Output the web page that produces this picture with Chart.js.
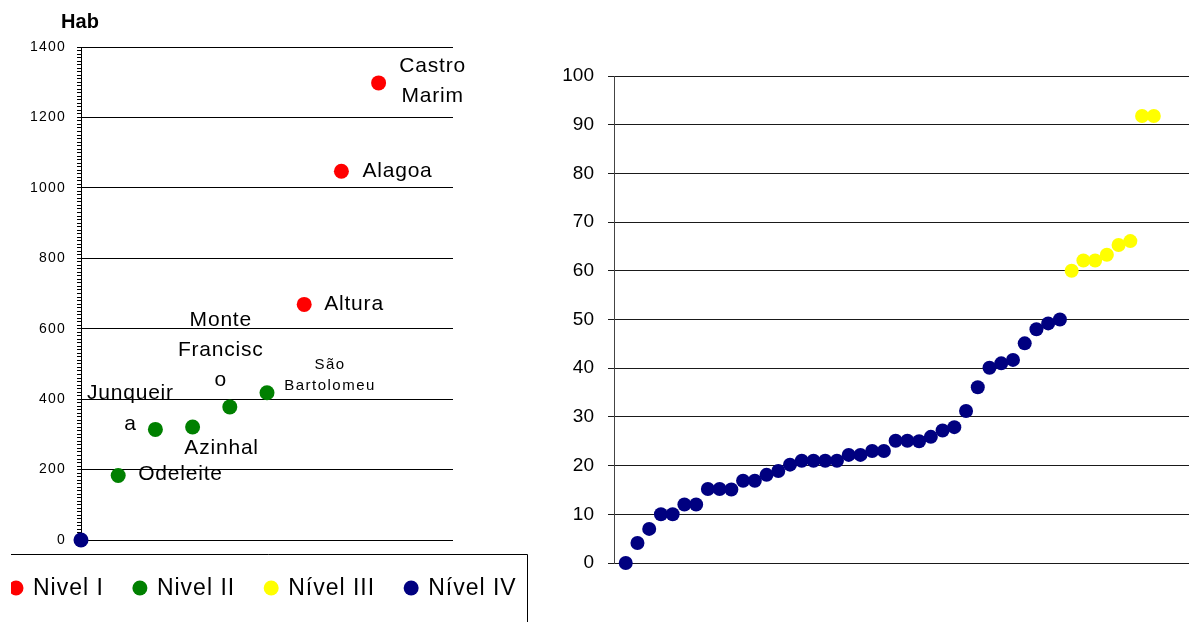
<!DOCTYPE html>
<html><head><meta charset="utf-8">
<script src="https://cdn.jsdelivr.net/npm/chart.js@4/dist/chart.umd.min.js"></script>
<style>
html,body{margin:0;padding:0;background:#fff;width:1189px;height:622px;overflow:hidden;position:relative}
#left{position:absolute;left:11px;top:0}
#right{position:absolute;left:540px;top:0}
</style></head><body>
<canvas id="left" width="517" height="622"></canvas>
<canvas id="right" width="649" height="622"></canvas>
<script>
// ---------- Left chart: population (Hab) by village ----------
const villageNames = ['', 'Odeleite', 'Junqueira', 'Azinhal', 'Monte Francisco', 'São Bartolomeu', 'Altura', 'Alagoa', 'Castro Marim'];
const villageRank  = [0, 1, 2, 3, 4, 5, 6, 7, 8];
const villageHab   = [0, 183, 314, 321, 378, 418, 669, 1047, 1298];
const villageLevel = ['Nível IV', 'Nivel II', 'Nivel II', 'Nivel II', 'Nivel II', 'Nivel II', 'Nivel I', 'Nivel I', 'Nivel I'];
const levelNames   = ['Nivel I', 'Nivel II', 'Nível III', 'Nível IV'];
const habAxisTitle = 'Hab';
const habMin = 0, habMax = 1400, habMajorStep = 200, habMinorStep = 10;

// ---------- Right chart: ranked values ----------
const nivelIVValues  = [0, 4.1, 7, 10, 10, 12, 12, 15.2, 15.2, 15.1, 16.9, 16.9, 18.1, 18.9, 20.2, 21, 21, 21, 21,
                        22.2, 22.2, 23, 23, 25.1, 25.1, 25, 25.9, 27.2, 27.9, 31.2, 36.1, 40.1, 41, 41.7, 45.1, 48, 49.2, 50];
const nivelIIIValues = [60, 62.1, 62.1, 63.3, 65.3, 66.1, 91.8, 91.8];
const rightMin = 0, rightMax = 100, rightStep = 10;

// ---------- styles ----------
const levelColors = {'Nivel I': '#FF0000', 'Nivel II': '#008000', 'Nível III': '#FFFF00', 'Nível IV': '#000080'};
const FONT = "'Liberation Sans', Arial, sans-serif";
const labelStyle = {
  'Odeleite':        {dx: 20,  dy: -1,  align: 'left',   size: 21, lh: 30, wrap: 8},
  'Junqueira':       {dx: -25, dy: -36, align: 'center', size: 21, lh: 31, wrap: 8},
  'Azinhal':         {dx: 29,  dy: 21,  align: 'center', size: 21, lh: 30, wrap: 8},
  'Monte Francisco': {dx: -9,  dy: -87, align: 'center', size: 21, lh: 30, wrap: 8},
  'São Bartolomeu':  {dx: 63,  dy: -28, align: 'center', size: 15, lh: 21, wrap: 10},
  'Altura':          {dx: 20,  dy: 0,   align: 'left',   size: 21, lh: 30, wrap: 8},
  'Alagoa':          {dx: 21,  dy: 0,   align: 'left',   size: 21, lh: 30, wrap: 8},
  'Castro Marim':    {dx: 54,  dy: -17, align: 'center', size: 21, lh: 30, wrap: 8}
};

function wrapName(name, maxChars) {
  const out = [];
  name.split(' ').forEach(w => {
    while (w.length > maxChars) { out.push(w.slice(0, maxChars)); w = w.slice(maxChars); }
    out.push(w);
  });
  return out;
}

Chart.defaults.font.family = FONT;
Chart.defaults.color = '#000';

// datasets for the left chart, one per level
const leftDatasets = levelNames.map(lv => {
  const pts = [];
  villageNames.forEach((n, i) => {
    if (villageLevel[i] === lv) pts.push({x: villageRank[i], y: villageHab[i], name: n});
  });
  return {
    label: lv, data: pts,
    backgroundColor: levelColors[lv], borderColor: levelColors[lv],
    pointRadius: 7.5, pointHoverRadius: 7.5, borderWidth: 0, clip: false
  };
});

const leftDecor = {
  id: 'leftDecor',
  beforeDraw(chart) { chart.ctx.letterSpacing = '1.2px'; },
  afterDatasetsDraw(chart) {
    const ctx = chart.ctx;
    ctx.save();
    ctx.fillStyle = '#000';
    ctx.textBaseline = 'middle';
    chart.data.datasets.forEach((ds, di) => {
      const meta = chart.getDatasetMeta(di);
      ds.data.forEach((p, j) => {
        const st = labelStyle[p.name];
        if (!st) return;
        const el = meta.data[j];
        ctx.font = st.size + 'px ' + FONT;
        ctx.letterSpacing = st.size < 18 ? '1.5px' : '0.8px';
        ctx.textAlign = st.align;
        wrapName(p.name, st.wrap).forEach((line, k) => {
          ctx.fillText(line, el.x + st.dx, el.y + st.dy + k * st.lh);
        });
      });
    });
    ctx.restore();
  },
  afterDraw(chart) {
    const ctx = chart.ctx;
    const area = chart.chartArea;
    ctx.save();
    // axis title
    ctx.letterSpacing = '0px';
    ctx.font = 'bold 20px ' + FONT;
    ctx.fillStyle = '#000';
    ctx.textAlign = 'center';
    ctx.textBaseline = 'middle';
    ctx.fillText(habAxisTitle, area.left - 1, area.top - 25);
    // legend frame
    const frameTop = area.bottom + 14;
    ctx.strokeStyle = '#000';
    ctx.lineWidth = 1;
    ctx.beginPath();
    ctx.moveTo(-5, frameTop + 0.5);
    ctx.lineTo(chart.width - 0.5, frameTop + 0.5);
    ctx.lineTo(chart.width - 0.5, chart.height + 5);
    ctx.stroke();
    // legend items
    ctx.font = '23px ' + FONT;
    ctx.letterSpacing = '1px';
    ctx.textAlign = 'left';
    const y = area.bottom + 48;
    let x = 5;
    chart.data.datasets.forEach(ds => {
      ctx.fillStyle = ds.backgroundColor;
      ctx.beginPath(); ctx.arc(x, y, 7.5, 0, Math.PI * 2); ctx.fill();
      ctx.fillStyle = '#000';
      ctx.fillText(ds.label, x + 17, y + 1);
      x += 17 + ctx.measureText(ds.label).width + 36;
    });
    ctx.restore();
  }
};

new Chart(document.getElementById('left'), {
  type: 'scatter',
  data: {datasets: leftDatasets},
  options: {
    responsive: false, animation: false, devicePixelRatio: 1,
    layout: {autoPadding: false, padding: {left: 0, right: 75, top: 47, bottom: 82}},
    plugins: {legend: {display: false}, tooltip: {enabled: false}},
    scales: {
      x: {type: 'linear', display: false, min: 0, max: 10},
      y: {
        type: 'linear', min: habMin, max: habMax,
        afterFit(s) { s.width = 70; },
        border: {display: true, color: '#000', width: 1},
        grid: {
          color: c => (c.tick && c.tick.value % habMajorStep === 0) ? '#000' : 'rgba(0,0,0,0)',
          tickColor: '#000', tickLength: 4, lineWidth: 1, drawTicks: true
        },
        ticks: {
          stepSize: habMinorStep, autoSkip: false, padding: 11,
          font: {size: 14, family: FONT}, color: '#000',
          callback: v => (v % habMajorStep === 0) ? String(v) : ''
        }
      }
    }
  },
  plugins: [leftDecor]
});

// ---------- right chart ----------
const rightDatasets = [
  {label: 'Nível IV', data: nivelIVValues.map((v, i) => ({x: i + 1, y: v})),
   backgroundColor: levelColors['Nível IV'], borderColor: levelColors['Nível IV']},
  {label: 'Nível III', data: nivelIIIValues.map((v, i) => ({x: nivelIVValues.length + i + 1, y: v})),
   backgroundColor: levelColors['Nível III'], borderColor: levelColors['Nível III']}
].map(d => Object.assign(d, {pointRadius: 7, pointHoverRadius: 7, borderWidth: 0, clip: false}));

new Chart(document.getElementById('right'), {
  type: 'scatter',
  data: {datasets: rightDatasets},
  options: {
    responsive: false, animation: false, devicePixelRatio: 1,
    layout: {autoPadding: false, padding: {left: 0, right: 0, top: 76, bottom: 59}},
    plugins: {legend: {display: false}, tooltip: {enabled: false}},
    scales: {
      x: {type: 'linear', display: false, min: 0, max: 49},
      y: {
        type: 'linear', min: rightMin, max: rightMax,
        afterFit(s) { s.width = 74; },
        border: {display: true, color: '#444', width: 1},
        grid: {color: '#1a1a1a', tickColor: '#1a1a1a', tickLength: 6, lineWidth: 1},
        ticks: {stepSize: rightStep, padding: 14, font: {size: 19, family: FONT}, color: '#000'}
      }
    }
  }
});
</script>
</body></html>
